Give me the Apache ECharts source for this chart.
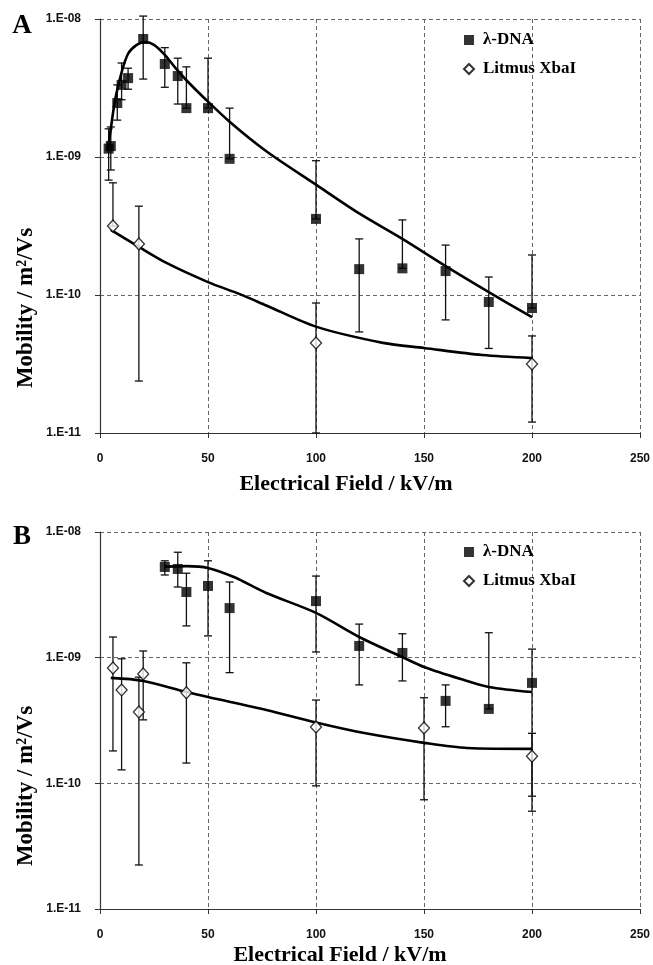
<!DOCTYPE html>
<html lang="en" style="height: 100%">
<head>
  <meta charset="utf-8">
  <title>Mobility vs electrical field</title>
  <script src="https://cdn.jsdelivr.net/npm/echarts@6/dist/echarts.min.js"></script>
</head>
<body style="height: 100%; margin: 0; background: #fff;">
  <div id="container" style="width: 653px; height: 965px;"></div>
  <script type="text/javascript">
    // panel A, lambda-DNA
    var fieldA_dna = [4, 5, 8, 10, 13, 20, 30, 36, 40, 50, 60, 100, 120, 140, 160, 180, 200];
    var muA_dna    = [1.15e-9, 1.2e-9, 2.46e-9, 3.33e-9, 3.73e-9, 7.16e-9, 4.72e-9, 3.86e-9, 2.26e-9, 2.26e-9, 9.7e-10, 3.56e-10, 1.54e-10, 1.56e-10, 1.49e-10, 8.9e-11, 8.05e-11];
    var hiA_dna    = [1.6e-9, 1.65e-9, 3.33e-9, 4.8e-9, 4.4e-9, 1.05e-8, 6.2e-9, 5.2e-9, 4.5e-9, 5.2e-9, 2.26e-9, 9.4e-10, 2.55e-10, 3.5e-10, 2.3e-10, 1.35e-10, 1.95e-10];
    var loA_dna    = [6.8e-10, 8.05e-10, 1.85e-9, 2.6e-9, 3.1e-9, 3.67e-9, 3.2e-9, 2.42e-9, 2.26e-9, 2.26e-9, 9.7e-10, 3.56e-10, 5.4e-11, 1.56e-10, 6.6e-11, 4.1e-11, 8.05e-11];
    // panel A, Litmus XbaI
    var fieldA_lit = [6, 18, 100, 200];
    var muA_lit    = [3.16e-10, 2.34e-10, 4.49e-11, 3.16e-11];
    var hiA_lit    = [6.5e-10, 4.4e-10, 8.75e-11, 5.05e-11];
    var loA_lit    = [3.16e-10, 2.38e-11, 1e-11, 1.2e-11];
    // panel A, fitted curves
    var fitA_dna = [[3.5, 1.1e-9], [5, 1.6e-9], [7, 2.6e-9], [10, 4.1e-9], [13, 5.6e-9], [17, 6.5e-9], [21, 6.8e-9], [25, 6.5e-9], [30, 5.5e-9], [35, 4.4e-9], [40, 3.6e-9], [48, 2.7e-9], [60, 1.8e-9], [77, 1.1e-9], [100, 6.3e-10], [120, 3.9e-10], [140, 2.55e-10], [160, 1.62e-10], [180, 1.05e-10], [200, 6.9e-11]];
    var fitA_lit = [[5, 2.96e-10], [18, 2.23e-10], [31, 1.7e-10], [50, 1.24e-10], [65, 1.01e-10], [77, 8.4e-11], [100, 5.9e-11], [131, 4.5e-11], [150, 4.13e-11], [177, 3.67e-11], [200, 3.49e-11]];

    // panel B, lambda-DNA
    var fieldB_dna = [30, 36, 40, 50, 60, 100, 120, 140, 160, 180, 200];
    var muB_dna    = [5.27e-9, 5.08e-9, 3.33e-9, 3.72e-9, 2.48e-9, 2.82e-9, 1.24e-9, 1.09e-9, 4.53e-10, 3.91e-10, 6.3e-10];
    var hiB_dna    = [5.9e-9, 6.9e-9, 4.7e-9, 5.9e-9, 4.0e-9, 4.46e-9, 1.85e-9, 1.55e-9, 6.07e-10, 1.58e-9, 1.17e-9];
    var loB_dna    = [4.55e-9, 3.65e-9, 1.79e-9, 1.49e-9, 7.6e-10, 1.11e-9, 6.07e-10, 6.53e-10, 2.82e-10, 3.91e-10, 6.0e-11];
    // panel B, Litmus XbaI
    var fieldB_lit = [6, 10, 18, 20, 40, 100, 150, 200];
    var muB_lit    = [8.28e-10, 5.54e-10, 3.7e-10, 7.41e-10, 5.25e-10, 2.81e-10, 2.76e-10, 1.64e-10];
    var hiB_lit    = [1.46e-9, 9.8e-10, 7.0e-10, 1.13e-9, 9.1e-10, 4.6e-10, 4.8e-10, 2.5e-10];
    var loB_lit    = [1.81e-10, 1.28e-10, 2.24e-11, 3.2e-10, 1.45e-10, 9.55e-11, 7.4e-11, 7.9e-11];
    // panel B, fitted curves
    var fitB_dna = [[30, 5.3e-9], [40, 5.35e-9], [50, 5.18e-9], [62, 4.38e-9], [77, 3.27e-9], [100, 2.27e-9], [120, 1.46e-9], [140, 1.01e-9], [150, 8.43e-10], [167, 6.76e-10], [180, 5.85e-10], [200, 5.33e-10]];
    var fitB_lit = [[5, 6.9e-10], [20, 6.53e-10], [40, 5.33e-10], [50, 4.86e-10], [77, 3.84e-10], [100, 3.05e-10], [123, 2.5e-10], [150, 2.1e-10], [170, 1.91e-10], [200, 1.88e-10]];

    var serif = '"Liberation Serif", "DejaVu Serif", serif';
    var sans = '"Liberation Sans", Arial, sans-serif';

    function pts(xs, ys) {
      return xs.map(function (x, i) { return [x, ys[i]]; });
    }
    function bars(xs, lo, hi) {
      return xs.map(function (x, i) { return [x, lo[i], hi[i]]; });
    }

    function errorBar(params, api) {
      var x = api.value(0);
      var top = api.coord([x, api.value(2)]);
      var bot = api.coord([x, api.value(1)]);
      var w = 4;
      var st = { stroke: '#111', lineWidth: 1.3 };
      return {
        type: 'group',
        children: [
          { type: 'line', shape: { x1: top[0], y1: top[1], x2: bot[0], y2: bot[1] }, style: st },
          { type: 'line', shape: { x1: top[0] - w, y1: top[1], x2: top[0] + w, y2: top[1] }, style: st },
          { type: 'line', shape: { x1: bot[0] - w, y1: bot[1], x2: bot[0] + w, y2: bot[1] }, style: st }
        ]
      };
    }

    function xAxisFor(idx) {
      return {
        type: 'value', gridIndex: idx, min: 0, max: 250, interval: 50,
        axisLine: { show: true, onZero: false, lineStyle: { color: '#333', width: 1.2 } },
        axisTick: { show: true, length: 5, lineStyle: { color: '#333' } },
        axisLabel: { fontFamily: sans, fontWeight: 'bold', fontSize: 12, color: '#111', margin: 20 },
        splitLine: { show: true, lineStyle: { color: '#666', type: [4, 3], width: 1 } }
      };
    }
    function yAxisFor(idx) {
      return {
        type: 'log', logBase: 10, gridIndex: idx, min: 1e-11, max: 1e-8,
        axisLine: { show: true, lineStyle: { color: '#333', width: 1.2 } },
        axisTick: { show: true, length: 5, lineStyle: { color: '#333' } },
        axisLabel: {
          fontFamily: sans, fontWeight: 'bold', fontSize: 12, color: '#111', margin: 19,
          formatter: function (v) {
            var e = Math.round(Math.log(v) / Math.LN10);
            var a = Math.abs(e);
            return '1.E' + (e < 0 ? '-' : '+') + (a < 10 ? '0' + a : a);
          }
        },
        splitLine: { show: true, lineStyle: { color: '#666', type: [4, 3], width: 1 } }
      };
    }

    function errSeries(name, idx, data) {
      return { name: name, type: 'custom', xAxisIndex: idx, yAxisIndex: idx, renderItem: errorBar,
        encode: { x: 0, y: [1, 2] }, data: data, z: 2, silent: true };
    }
    function fitSeries(name, idx, data) {
      return { name: name, type: 'line', xAxisIndex: idx, yAxisIndex: idx, data: data, smooth: 0.3,
        showSymbol: false, lineStyle: { color: '#000', width: 2.6 }, z: 3, silent: true };
    }
    function dnaSeries(idx, data) {
      return { name: 'λ-DNA', type: 'scatter', xAxisIndex: idx, yAxisIndex: idx, data: data,
        symbol: 'rect', symbolSize: 10, itemStyle: { color: '#000' }, z: 4 };
    }
    function litSeries(idx, data) {
      return { name: 'Litmus XbaI', type: 'scatter', xAxisIndex: idx, yAxisIndex: idx, data: data,
        symbol: 'diamond', symbolSize: [11, 12], itemStyle: { color: '#fff', borderColor: '#000', borderWidth: 1.3 }, z: 5 };
    }
    function legendAt(top) {
      return {
        left: 458, top: top, orient: 'vertical', itemGap: 9, itemWidth: 10, itemHeight: 10,
        data: ['λ-DNA', 'Litmus XbaI'],
        textStyle: { fontFamily: serif, fontWeight: 'bold', fontSize: 17, color: '#000', padding: [0, 0, 0, 4], lineHeight: 20 }
      };
    }
    function txt(x, y, s, size, rot) {
      return { type: 'text', x: x, y: y, rotation: rot || 0,
        style: { text: s, font: 'bold ' + size + 'px ' + serif, fill: '#000', textAlign: 'center', textVerticalAlign: 'middle' } };
    }

    var dom = document.getElementById('container');
    var myChart = echarts.init(dom, null, { renderer: 'canvas' });

    var option = {
      animation: false,
      backgroundColor: '#fff',
      grid: [
        { left: 100, top: 19, width: 540, height: 414 },
        { left: 100, top: 532, width: 540, height: 377 }
      ],
      xAxis: [xAxisFor(0), xAxisFor(1)],
      yAxis: [yAxisFor(0), yAxisFor(1)],
      legend: [legendAt(25), legendAt(537)],
      graphic: [
        txt(22, 26, 'A', 27),
        txt(22, 537, 'B', 27),
        txt(346, 484, 'Electrical Field / kV/m', 22),
        txt(340, 955, 'Electrical Field / kV/m', 22),
        txt(26, 308, 'Mobility / m²/Vs', 23, Math.PI / 2),
        txt(26, 786, 'Mobility / m²/Vs', 23, Math.PI / 2)
      ],
      series: [
        errSeries('errA_dna', 0, bars(fieldA_dna, loA_dna, hiA_dna)),
        errSeries('errA_lit', 0, bars(fieldA_lit, loA_lit, hiA_lit)),
        errSeries('errB_dna', 1, bars(fieldB_dna, loB_dna, hiB_dna)),
        errSeries('errB_lit', 1, bars(fieldB_lit, loB_lit, hiB_lit)),
        fitSeries('fitA_dna', 0, fitA_dna),
        fitSeries('fitA_lit', 0, fitA_lit),
        fitSeries('fitB_dna', 1, fitB_dna),
        fitSeries('fitB_lit', 1, fitB_lit),
        dnaSeries(0, pts(fieldA_dna, muA_dna)),
        litSeries(0, pts(fieldA_lit, muA_lit)),
        dnaSeries(1, pts(fieldB_dna, muB_dna)),
        litSeries(1, pts(fieldB_lit, muB_lit))
      ]
    };
    myChart.setOption(option);
    window.addEventListener('resize', myChart.resize);
  </script>
</body>
</html>
